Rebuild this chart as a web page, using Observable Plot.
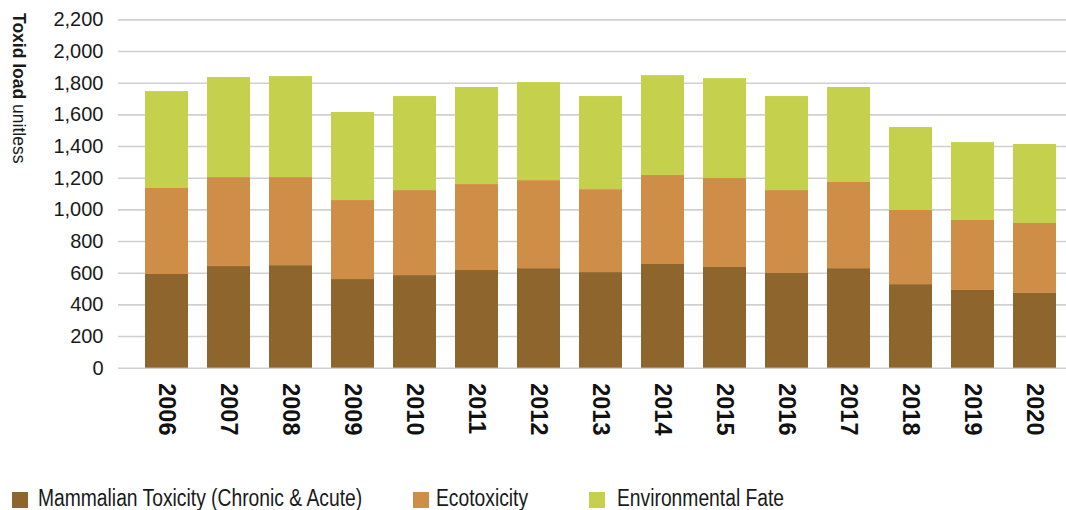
<!DOCTYPE html>
<html>
<head>
<meta charset="utf-8">
<script src="https://cdn.jsdelivr.net/npm/d3@7"></script>
<script src="https://cdn.jsdelivr.net/npm/@observablehq/plot@0.6"></script>
<style>
  html, body { margin: 0; padding: 0; background: #fff; width: 1066px; height: 510px; overflow: hidden; }
  #wrap { position: relative; width: 1066px; height: 510px; }
  #chart svg { display: block; }
  .leg-sw { position: absolute; width: 16px; height: 16px; top: 491.7px; }
  .leg-tx { position: absolute; top: 487px; font-family: "Liberation Sans", Arial, sans-serif; font-size: 23.5px; line-height: 1; color: #1a1a1a; white-space: nowrap; transform: scaleX(0.82); transform-origin: 0 0; }
</style>
</head>
<body>
<div id="wrap">
  <div id="chart"></div>
  <div id="legend"></div>
</div>
<script>
const years = ["2006","2007","2008","2009","2010","2011","2012","2013","2014","2015","2016","2017","2018","2019","2020"];
const seriesNames = ["Mammalian Toxicity (Chronic & Acute)", "Ecotoxicity", "Environmental Fate"];
const seriesColors = ["#8f652e", "#cf8e47", "#c5d14d"];
const mammalian = [592, 642, 648, 560, 585, 617, 629, 604, 655, 636, 598, 629, 528, 491, 472];
const ecotoxicity = [543, 562, 556, 499, 537, 543, 556, 524, 562, 562, 524, 544, 468, 442, 442];
const envFate = [612, 632, 638, 556, 594, 613, 619, 588, 631, 631, 594, 600, 524, 492, 499];
const yTicks = [0, 200, 400, 600, 800, 1000, 1200, 1400, 1600, 1800, 2000, 2200];
const yTitleBold = "Toxid load";
const yTitleRest = " unitless";

const seriesValues = [mammalian, ecotoxicity, envFate];
const rows = [];
years.forEach((yr, i) => {
  seriesNames.forEach((s, j) => rows.push({year: yr, series: s, value: seriesValues[j][i]}));
});

const fmt = d3.format(",");
const chart = Plot.plot({
  width: 1066,
  height: 460,
  marginLeft: 118,
  marginRight: 0,
  marginTop: 19.4,
  marginBottom: 92.3,
  style: {fontFamily: "'Liberation Sans', Arial, sans-serif", color: "#1a1a1a", background: "#fff"},
  x: {domain: years, range: [134.5, 1065.5], paddingInner: 0.31, paddingOuter: 0.155, label: null},
  y: {domain: [0, 2200], label: null},
  color: {domain: seriesNames, range: seriesColors},
  marks: [
    Plot.ruleY(yTicks, {stroke: "#d0d0d0", strokeWidth: 1.6}),
    Plot.barY(rows, {x: "year", y: "value", fill: "series", z: "series"}),
    Plot.axisY({ticks: yTicks, tickSize: 0, tickPadding: 15, fontSize: 20, tickFormat: fmt, label: null, fill: "#1a1a1a"}),
    Plot.axisX({tickSize: 0, tickPadding: 15, tickRotate: 90, fontSize: 23.5, fontWeight: "bold", label: null, fill: "#111"})
  ]
});
document.getElementById("chart").appendChild(chart);

// y-axis title (rotated, mixed weight)
const svg = d3.select(chart);
const t = svg.append("text")
  .attr("transform", "translate(13,13) rotate(90)")
  .attr("text-anchor", "start")
  .attr("font-family", "'Liberation Sans', Arial, sans-serif")
  .attr("font-size", 17.5)
  .attr("fill", "#1a1a1a");
t.append("tspan").attr("font-weight", "bold").text(yTitleBold);
t.append("tspan").attr("font-weight", "normal").text(yTitleRest);

// legend
const legend = document.getElementById("legend");
const swX = [12.3, 412.7, 589];
const txX = [38, 436, 617];
seriesNames.forEach((s, i) => {
  const sw = document.createElement("div");
  sw.className = "leg-sw";
  sw.style.left = swX[i] + "px";
  sw.style.background = seriesColors[i];
  legend.appendChild(sw);
  const tx = document.createElement("div");
  tx.className = "leg-tx";
  tx.style.left = txX[i] + "px";
  tx.textContent = s;
  legend.appendChild(tx);
});
</script>
</body>
</html>
